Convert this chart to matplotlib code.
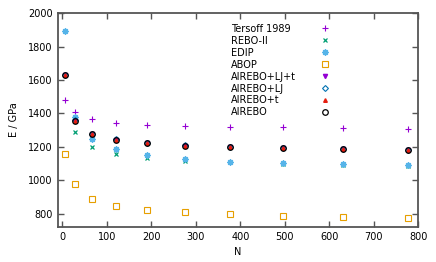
import numpy as np
import matplotlib
matplotlib.use("Agg")
import matplotlib.pyplot as plt

# data
N = [5, 28, 66, 120, 190, 276, 377, 496, 630, 778]

tersoff = [1480, 1407, 1367, 1345, 1333, 1325, 1320, 1317, 1315, 1310]
rebo2 = [None, 1291, 1200, 1160, 1136, 1118, 1108, 1100, 1094, 1088]
edip = [1892, 1381, 1246, 1188, 1152, 1128, 1112, 1103, 1097, 1091]
abop = [1156, 977, 889, 848, 824, 810, 798, 788, 782, 778]
airebo_ljt = [1630, 1357, 1279, 1244, 1222, 1208, 1198, 1192, 1186, 1182]
airebo_lj = [1631, 1358, 1280, 1245, 1223, 1209, 1199, 1193, 1187, 1183]
airebo_t = [1629, 1356, 1278, 1243, 1221, 1207, 1197, 1191, 1185, 1181]
airebo = [1630, 1357, 1279, 1244, 1222, 1208, 1198, 1192, 1186, 1182]

plt.rcParams['font.family'] = ['DejaVu Sans']
fs = 7.0

fig = plt.figure(figsize=(4.36, 2.62), dpi=100)
ax = fig.add_axes([0.133, 0.134, 0.826, 0.816])

def clean(xs, ys):
    pts = [(a, b) for a, b in zip(xs, ys) if b is not None]
    return [p[0] for p in pts], [p[1] for p in pts]

series = [
    ("Tersoff 1989", tersoff, dict(marker='+', color='#9400d3', ms=4.5, mew=0.8)),
    ("REBO-II", rebo2, dict(marker='x', color='#009e73', ms=3.5, mew=0.9)),
    ("EDIP", edip, dict(marker=(8, 2, 0), color='#56b4e9', ms=4.5, mew=1.0)),
    ("ABOP", abop, dict(marker='s', mfc='none', mec='#e69f00', color='#e69f00', ms=3.8, mew=0.8)),
    ("AIREBO+LJ+t", airebo_ljt, dict(marker='v', color='#9400d3', ms=3)),
    ("AIREBO+LJ", airebo_lj, dict(marker='D', mfc='none', mec='#0072b2', color='#0072b2', ms=3, mew=0.8)),
    ("AIREBO+t", airebo_t, dict(marker='^', color='#e51e10', ms=2.6)),
    ("AIREBO", airebo, dict(marker='o', mfc='none', mec='black', color='black', ms=4, mew=0.9)),
]

handles = []
labels = []
for label, ys, style in series:
    xs, yv = clean(N, ys)
    h, = ax.plot(xs, yv, ls='none', label=label, **style)
    handles.append(h)
    labels.append(label)

ax.set_xlim(-10, 800)
ax.set_ylim(722, 2000)
ax.set_xticks(np.arange(0, 801, 100))
ax.set_yticks(np.arange(800, 2001, 200))
ax.tick_params(direction='in', length=4, width=1, color='#555555',
               top=True, right=True, labelsize=fs, pad=4)
for s in ax.spines.values():
    s.set_color('#555555')
    s.set_linewidth(1.3)

ax.set_xlabel("N", fontsize=fs, labelpad=3)
ax.set_ylabel("E / GPa", fontsize=fs, labelpad=6)

# legend: left-aligned labels, markers in their own column
blank = [plt.Line2D([], [], ls='none', marker='') for _ in handles]
leg_text = ax.legend(blank, labels, loc='upper left', bbox_to_anchor=(0.48, 0.95),
                     frameon=False, handlelength=0, handletextpad=0,
                     labelspacing=0.2, borderpad=0, borderaxespad=0, fontsize=fs)
ax.add_artist(leg_text)
ax.legend(handles, [' '] * len(handles), loc='upper left', bbox_to_anchor=(0.728, 0.95),
          frameon=False, handlelength=1.0, handletextpad=0,
          labelspacing=0.2, borderpad=0, borderaxespad=0, fontsize=fs)

fig.savefig("out.png", dpi=100)
